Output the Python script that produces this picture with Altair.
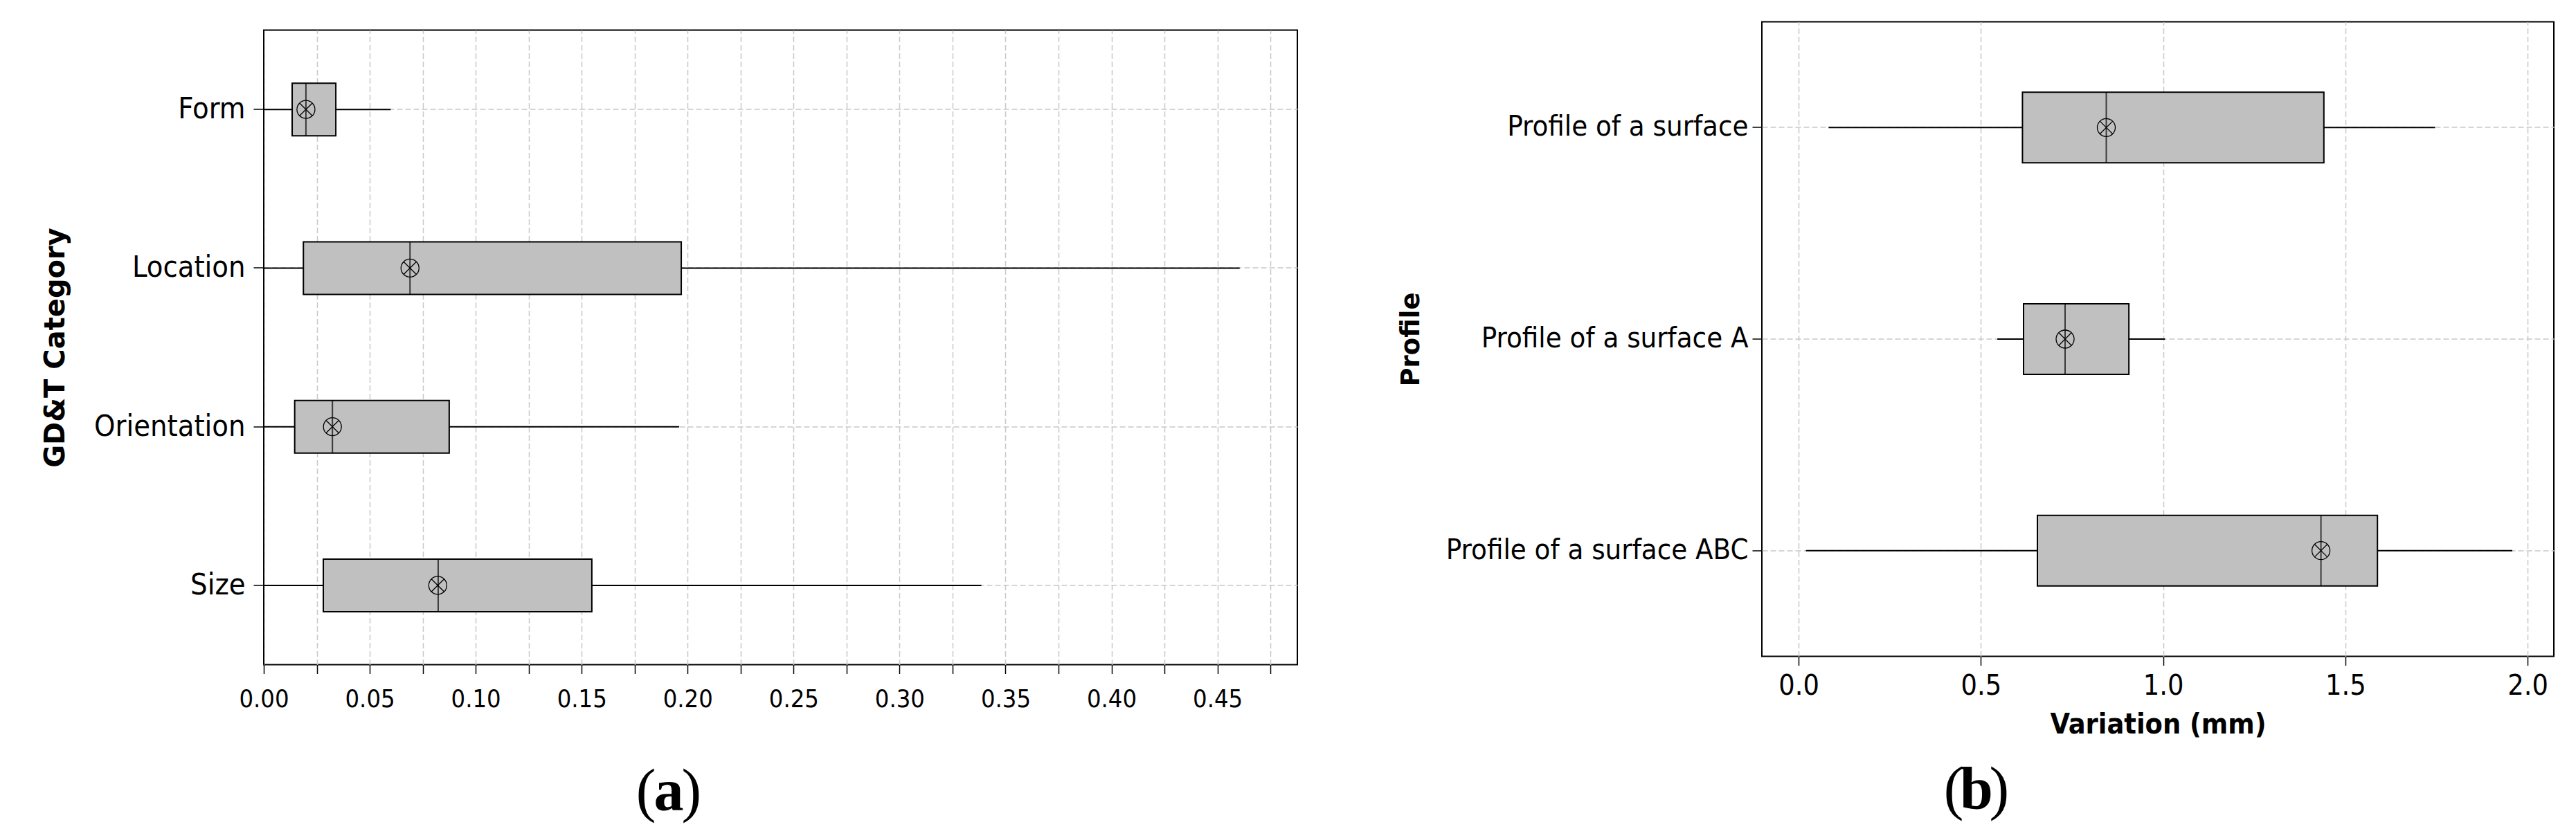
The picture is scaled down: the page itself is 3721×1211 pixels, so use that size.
import altair as alt
import pandas as pd

# ---------------- data ----------------
# Panel (a): GD&T category
cats_a = ["Form", "Location", "Orientation", "Size"]
low_a = [0.0, 0.0, 0.0, 0.0]
q1_a = [0.0134, 0.0187, 0.0146, 0.0281]
med_a = [0.0199, 0.0690, 0.0324, 0.0823]
q3_a = [0.0340, 0.1970, 0.0875, 0.1548]
high_a = [0.0599, 0.4605, 0.1960, 0.3386]
mean_a = [0.0199, 0.0690, 0.0324, 0.0821]
ticks_a = [0.0, 0.025, 0.05, 0.075, 0.1, 0.125, 0.15, 0.175, 0.2, 0.225,
           0.25, 0.275, 0.3, 0.325, 0.35, 0.375, 0.4, 0.425, 0.45, 0.475]
domain_a = [0.0, 0.4877]

# Panel (b): Profile
cats_b = ["Profile of a surface", "Profile of a surface A", "Profile of a surface ABC"]
low_b = [0.082, 0.545, 0.020]
q1_b = [0.614, 0.617, 0.655]
med_b = [0.844, 0.731, 1.433]
q3_b = [1.441, 0.906, 1.588]
high_b = [1.746, 1.005, 1.958]
mean_b = [0.844, 0.731, 1.433]
ticks_b = [0.0, 0.5, 1.0, 1.5, 2.0]
domain_b = [-0.101, 2.072]

ytitle_a = "GD&T Category"
ytitle_b = "Profile"
xtitle_b = "Variation (mm)"
caption_a = "a"
caption_b = "b"

# ---------------- styling ----------------
LABEL_FONT = "DejaVu Sans Condensed, Liberation Sans Narrow, DejaVu Sans"
TITLE_FONT = "DejaVu Sans"
CAP_FONT = "Liberation Serif"
BOX_FILL = "#c0c0c0"
GRID = "#c8c8c8"
MEAN_SHAPE = ("M-1,0A1,1,0,1,0,1,0A1,1,0,1,0,-1,0Z "
              "M-0.707,-0.707L0.707,0.707 M-0.707,0.707L0.707,-0.707")
PLOT_H = 917


def make_df(cats, low, q1, med, q3, high, mean):
    return pd.DataFrame({"cat": cats, "low": low, "q1": q1, "med": med,
                         "q3": q3, "high": high, "mean": mean})


def caption(letter, cx, cy, size):
    half = size * 0.25
    lp = alt.Chart(pd.DataFrame({"t": ["("]})).mark_text(
        font=CAP_FONT, fontSize=size, align="right", baseline="alphabetic",
        color="black").encode(x=alt.value(cx - half + 3), y=alt.value(cy), text="t:N")
    le = alt.Chart(pd.DataFrame({"t": [letter]})).mark_text(
        font=CAP_FONT, fontSize=size, fontWeight="bold", align="center",
        baseline="alphabetic", color="black").encode(
        x=alt.value(cx), y=alt.value(cy), text="t:N")
    rp = alt.Chart(pd.DataFrame({"t": [")"]})).mark_text(
        font=CAP_FONT, fontSize=size, align="left", baseline="alphabetic",
        color="black").encode(x=alt.value(cx + half - 3), y=alt.value(cy), text="t:N")
    return [lp, le, rp]


def panel(df, cats, domain, ticks, width, height, box_h, xaxis, yaxis,
          cap_letter, cap_x, cap_y, left_frame=False):
    xs = alt.Scale(domain=domain, nice=False, zero=False)
    ys = alt.Scale(domain=cats, paddingInner=0, paddingOuter=0)
    y = alt.Y("cat:N", sort=cats, scale=ys, axis=yaxis)
    base = alt.Chart(df)
    whisk = base.mark_rule(color="black", strokeWidth=2).encode(
        x=alt.X("low:Q", scale=xs, axis=xaxis), x2="high:Q", y=y)
    box = base.mark_bar(size=box_h, color=BOX_FILL, stroke="black",
                        strokeWidth=2).encode(
        x=alt.X("q1:Q", scale=xs), x2="q3:Q", y=alt.Y("cat:N", sort=cats, scale=ys))
    med = base.mark_tick(orient="vertical", size=box_h, thickness=2,
                         color="black").encode(
        x=alt.X("med:Q", scale=xs), y=alt.Y("cat:N", sort=cats, scale=ys))
    mean = base.mark_point(shape=MEAN_SHAPE, size=676, filled=False,
                           color="black", strokeWidth=1.3, opacity=1).encode(
        x=alt.X("mean:Q", scale=xs), y=alt.Y("cat:N", sort=cats, scale=ys))
    layers = [whisk, box, med, mean] + caption(cap_letter, cap_x, cap_y, 86)
    if left_frame:
        frame = alt.Chart(pd.DataFrame({"k": [0]})).mark_rule(
            color="black", strokeWidth=2).encode(
            x=alt.value(0), y=alt.value(0), y2=alt.value(height))
        layers.append(frame)
    return alt.layer(*layers).properties(width=width, height=height)


df_a = make_df(cats_a, low_a, q1_a, med_a, q3_a, high_a, mean_a)
df_b = make_df(cats_b, low_b, q1_b, med_b, q3_b, high_b, mean_b)

xaxis_a = alt.Axis(
    values=ticks_a, title=None, grid=True, gridDash=[8, 4], gridColor=GRID,
    gridWidth=1.5, domain=False, ticks=True, tickSize=13, tickColor="black",
    tickWidth=1.5, labelFont=LABEL_FONT, labelFontSize=36, labelColor="black",
    labelPadding=20, labelFlush=False, labelOverlap=False, labelLimit=2000,
    labelExpr="(round(datum.value*1000) % 50 == 0) ? format(datum.value, '.2f') : ''")
yaxis_a = alt.Axis(
    title=ytitle_a, titleFont=TITLE_FONT, titleFontSize=40, titleFontWeight="bold",
    titleColor="black", titleX=-288.5, titleBaseline="alphabetic", titleAngle=270,
    grid=True, gridDash=[8, 4], gridColor=GRID, gridWidth=1.5, bandPosition=0.5,
    domain=False, tickSize=15, tickColor="black", tickWidth=1.5,
    labelFont=LABEL_FONT, labelFontSize=43, labelColor="black", labelPadding=12,
    labelOverlap=False, labelLimit=2000)

xaxis_b = alt.Axis(
    values=ticks_b, format=".1f", title=xtitle_b, titleFont=LABEL_FONT,
    titleFontSize=41, titleFontWeight="bold", titleColor="black",
    titleBaseline="alphabetic", titleY=111,
    grid=True, gridDash=[8, 4], gridColor=GRID, gridWidth=1.5, domain=False,
    tickSize=13, tickColor="black", tickWidth=1.5, labelFont=LABEL_FONT,
    labelFontSize=41, labelColor="black", labelPadding=10, labelFlush=False,
    labelOverlap=False, labelLimit=2000)
yaxis_b = alt.Axis(
    title=ytitle_b, titleFont=TITLE_FONT, titleFontSize=37, titleFontWeight="bold",
    titleColor="black", titleX=-496, titleBaseline="alphabetic", titleAngle=270,
    grid=True, gridDash=[8, 4], gridColor=GRID, gridWidth=1.5, bandPosition=0.5,
    domain=False, tickSize=14, tickColor="black", tickWidth=1.5,
    labelFont=LABEL_FONT, labelFontSize=41.5, labelColor="black", labelPadding=6,
    labelOverlap=False, labelLimit=2000)

left = panel(df_a, cats_a, domain_a, ticks_a, 1493, PLOT_H, 76, xaxis_a, yaxis_a,
             caption_a, 585, 1127.5, left_frame=True)
right = panel(df_b, cats_b, domain_b, ticks_b, 1144, PLOT_H, 102, xaxis_b, yaxis_b,
              caption_b, 310, 1136.5)

# invisible spacer that pushes panel (a) a few pixels below panel (b)
spacer = alt.Chart(pd.DataFrame({"k": [0]})).mark_rule(
    strokeOpacity=0, strokeWidth=0.1).encode(
    x=alt.value(0), y=alt.value(0), y2=alt.value(1)).properties(
    width=1, height=1, view=alt.ViewBackground(stroke="transparent"))

left_col = alt.vconcat(spacer, left, spacing=8)

chart = alt.hconcat(left_col, right, spacing=143).properties(
    padding={"left": 51, "top": 22.5, "right": 5, "bottom": 5},
    background="white",
).configure_view(stroke="black", strokeWidth=2)

chart.save("out.html", embed_options={"renderer": "svg", "actions": False})
